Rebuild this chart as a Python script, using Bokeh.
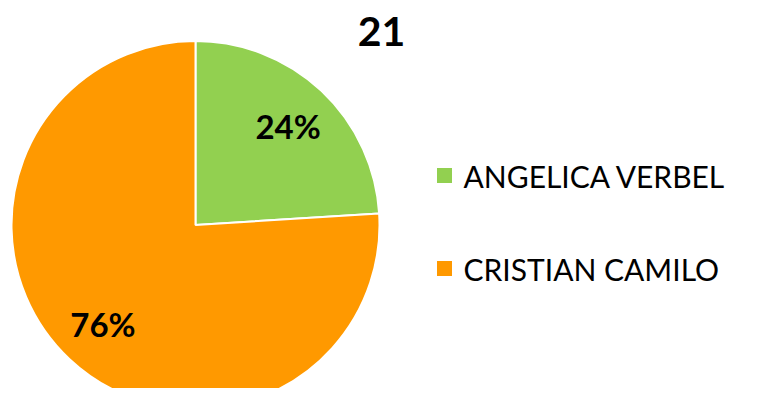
import math
from bokeh.plotting import figure
from bokeh.models import Range1d
from bokeh.core.properties import value
from bokeh.embed import file_html
from bokeh.resources import INLINE

title_text = "21"
names = ["ANGELICA  VERBEL", "CRISTIAN CAMILO"]
percents = [24, 76]
colors = ["#92D050", "#FF9900"]

W, H = 741, 388
cx, cy, r = 195, H - 224.5, 184
FONT = "Lato"

p = figure(width=W, height=H, output_backend="svg", toolbar_location=None,
           x_range=Range1d(0, W), y_range=Range1d(0, H),
           x_axis_location=None, y_axis_location=None, min_border=0)
p.grid.visible = False
p.outline_line_color = None
p.background_fill_color = "white"

total = sum(percents)
start = math.pi / 2
starts, ends, mids = [], [], []
for v in percents:
    sweep = 2 * math.pi * v / total
    end = start - sweep
    starts.append(end)
    ends.append(start)
    mids.append((start + end) / 2)
    start = end

p.wedge(x=[cx] * len(percents), y=[cy] * len(percents), radius=r,
        start_angle=starts, end_angle=ends, direction="anticlock",
        fill_color=colors, line_color="white", line_width=2)

lx = [cx + 0.735 * r * math.cos(m) for m in mids]
ly = [cy + 0.735 * r * math.sin(m) for m in mids]
p.text(x=lx, y=ly, text=[f"{v}%" for v in percents], text_align="center",
       text_baseline="middle", text_font=value(FONT), text_font_style="bold",
       text_font_size="33px", text_color="black")

p.text(x=[381], y=[H - 31], text=[title_text], text_align="center",
       text_baseline="middle", text_font=value(FONT), text_font_style="bold",
       text_font_size="41px", text_color="black")

leg_y = [H - 175, H - 268]
p.rect(x=[444] * 2, y=leg_y, width=15, height=15, fill_color=colors, line_color=None)
p.text(x=[463] * 2, y=leg_y, text=names, text_align="left", text_baseline="middle",
       text_font=value(FONT), text_font_size="30px", text_color="black")

open("out.html", "w").write(file_html(p, INLINE))
